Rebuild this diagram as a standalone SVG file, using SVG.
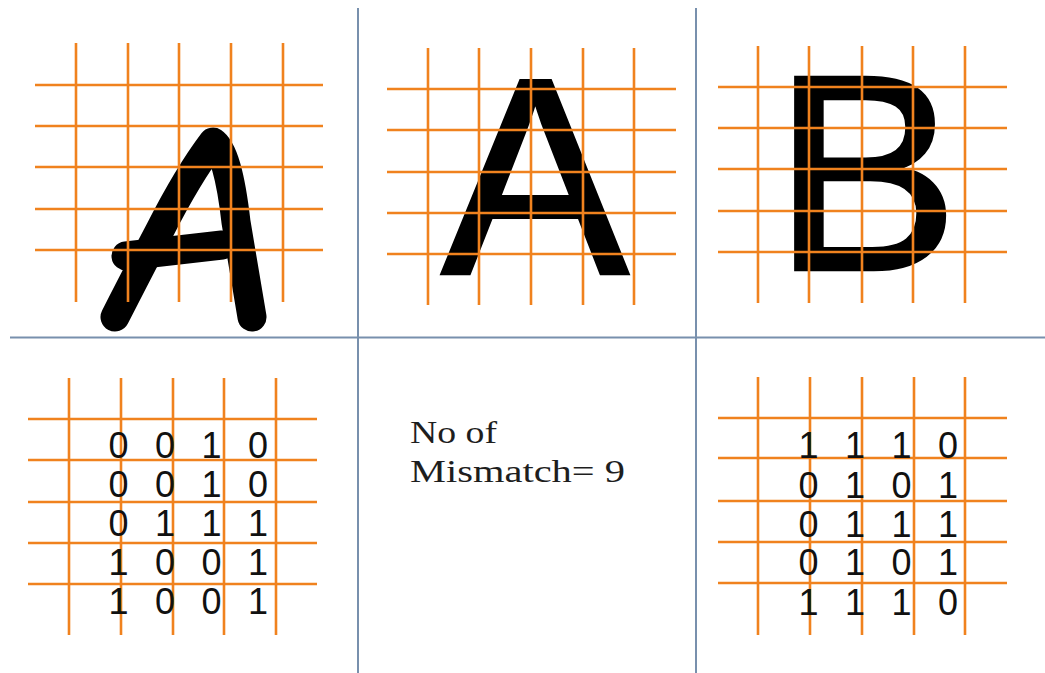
<svg xmlns="http://www.w3.org/2000/svg" width="1045" height="673" viewBox="0 0 1045 673">
<style>
.grid{stroke:#f0821e;stroke-width:2.6;fill:none}
.div{stroke:#7890ad;stroke-width:2;fill:none}
.big{font-family:"Liberation Sans",Arial,sans-serif;fill:#000;stroke:#000;stroke-width:3.5;stroke-linejoin:miter}
.dig{font-family:"Liberation Sans",Arial,sans-serif;font-size:36px;fill:#111;word-spacing:16.5px}
.lbl{font-family:"Liberation Serif","Times New Roman",serif;font-size:32px;fill:#1e1e1e}
.hand{stroke:#000;fill:none;stroke-linecap:round;stroke-linejoin:round}
</style>
<rect width="1045" height="673" fill="#ffffff"/>
<g id="dividers">
<path class="div" d="M358 8V673M696 8V673M10 337.5H1045"/>
</g>
<g id="panel-handwritten-A">
<path class="hand" stroke-width="29" d="M115 317 Q140 268 160 230 Q188 175 213 142 Q228 152 236 222 L252 317"/>
<path class="hand" stroke-width="29" d="M126 256 L222 245"/>
<path class="grid" d="M76 43V302M128 43V302M179 43V302M231 43V302M283 43V302M35 85H323M35 126H323M35 167H323M35 209H323M35 250H323"/>
</g>
<g id="panel-printed-A">
<text class="big" x="535" y="273.5" font-size="280" text-anchor="middle">A</text>
<path class="grid" d="M428 48V305M479 48V305M531 48V305M583 48V305M634 48V305M387 89H676M387 130H676M387 172H676M387 213H676M387 254H676"/>
</g>
<g id="panel-printed-B">
<text class="big" x="773" y="269.5" font-size="279">B</text>
<path class="grid" d="M758 46V303M809 46V303M862 46V303M913 46V303M965 46V303M718 87H1007M718 128H1007M718 169H1007M718 211H1007M718 252H1007"/>
</g>
<g id="panel-matrix-A">
<path class="grid" d="M69 378V635M121 378V635M173 378V635M224 378V635M276 378V635M28 419H317M28 460H317M28 502H317M28 543H317M28 584H317"/>
<text class="dig" x="108.5" y="458">0 0 1 0</text>
<text class="dig" x="108.5" y="497">0 0 1 0</text>
<text class="dig" x="108.5" y="536">0 1 1 1</text>
<text class="dig" x="108.5" y="575">1 0 0 1</text>
<text class="dig" x="108.5" y="614">1 0 0 1</text>
</g>
<g id="panel-mismatch">
<text class="lbl" x="410" y="443" textLength="87" lengthAdjust="spacingAndGlyphs">No of</text>
<text class="lbl" x="410" y="482" textLength="215" lengthAdjust="spacingAndGlyphs">Mismatch= 9</text>
</g>
<g id="panel-matrix-B">
<path class="grid" d="M758 377V635M810 377V635M862 377V635M914 377V635M965 377V635M718 418H1007M718 458H1007M718 501H1007M718 542H1007M718 583H1007"/>
<text class="dig" x="798.5" y="458">1 1 1 0</text>
<text class="dig" x="798.5" y="498">0 1 0 1</text>
<text class="dig" x="798.5" y="537">0 1 1 1</text>
<text class="dig" x="798.5" y="575">0 1 0 1</text>
<text class="dig" x="798.5" y="615">1 1 1 0</text>
</g>
</svg>
